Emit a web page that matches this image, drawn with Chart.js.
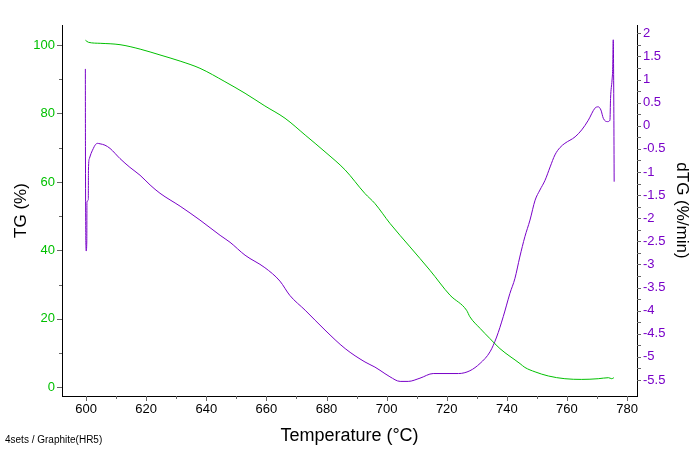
<!DOCTYPE html>
<html>
<head>
<meta charset="utf-8">
<script src="https://cdn.jsdelivr.net/npm/chart.js@4/dist/chart.umd.min.js"></script>
<style>
  html, body { margin: 0; padding: 0; background: #fff; }
  #wrap { width: 700px; height: 450px; position: relative; }
</style>
</head>
<body>
<div id="wrap"><canvas id="tgChart"></canvas></div>
<script>
// TG curve (green, left axis)
const tgTemp  = [599.8, 600.8, 604.7, 611.3, 618.0, 624.6, 631.3, 637.9, 646.2, 652.9, 659.5, 666.2,
                 672.9, 679.5, 686.2, 692.8, 696.1, 701.1, 707.8, 714.4, 721.1, 726.6, 727.7, 731.1,
                 734.4, 737.7, 744.4, 746.0, 749.4, 753.8, 759.3, 764.9, 770.4, 773.8, 774.9, 775.6];
const tgValue = [101.4, 100.8, 100.5, 100.1, 98.8, 97.1, 95.3, 93.2, 89.3, 85.9, 82.2, 78.6,
                 73.7, 68.8, 63.5, 56.6, 53.7, 47.9, 41.0, 34.2, 26.9, 22.5, 20.6, 17.2,
                 14.2, 11.3, 6.9, 5.8, 4.5, 3.3, 2.5, 2.3, 2.5, 2.8, 2.5, 2.8];

// dTG curve (purple, right axis)
const dtgTemp  = [599.77, 599.8, 600.05, 600.25, 600.3, 600.75, 600.8, 601.1, 601.66, 602.43, 603.0, 603.76,
                  604.66, 606.3, 607.98, 611.3, 614.6, 617.96, 621.3, 624.6, 631.3, 637.9, 644.6, 647.9,
                  652.9, 659.5, 664.5, 667.8, 672.9, 679.5, 686.2, 692.8, 696.1, 697.8, 701.1, 704.5,
                  707.2, 711.1, 715.5, 723.9, 727.7, 731.1, 734.4, 736.6, 738.8, 741.0, 742.7, 744.3,
                  746.0, 747.7, 749.4, 751.0, 752.7, 754.4, 756.0, 757.7, 759.3, 762.7, 764.9, 767.1,
                  769.3, 770.4, 771.3, 772.1, 773.5, 774.3, 774.5, 775.0, 775.2, 775.4, 775.6, 775.7];
const dtgValue = [1.23, -0.45, -2.71, -2.49, -1.65, -1.6, -0.96, -0.71, -0.6, -0.49, -0.42, -0.38,
                  -0.39, -0.42, -0.49, -0.71, -0.9, -1.07, -1.28, -1.46, -1.74, -2.04, -2.37, -2.52,
                  -2.8, -3.07, -3.36, -3.67, -3.99, -4.42, -4.82, -5.11, -5.22, -5.29, -5.43, -5.53,
                  -5.53, -5.46, -5.36, -5.36, -5.3, -5.14, -4.89, -4.57, -4.13, -3.63, -3.3, -2.84,
                  -2.4, -2.04, -1.61, -1.39, -1.18, -0.89, -0.63, -0.47, -0.38, -0.24, -0.09, 0.12,
                  0.38, 0.41, 0.34, 0.16, 0.09, 0.12, 0.59, 0.99, 1.22, 1.86, 0.27, -1.21];

// Tick labels
const xTicks   = [600, 620, 640, 660, 680, 700, 720, 740, 760, 780];
const tgTicks  = [0, 20, 40, 60, 80, 100];
const dtgTicks = [2, 1.5, 1, 0.5, 0, -0.5, -1, -1.5, -2, -2.5, -3, -3.5, -4, -4.5, -5, -5.5];

const green = '#00c000';
const purple = '#7800c8';

Chart.defaults.font.family = '"Liberation Sans", Arial, sans-serif';

// minor ticks sit halfway between the labelled ones
function withMinor(ticks) {
  const out = [];
  ticks.forEach((v, i) => {
    out.push({ v: v, major: true });
    if (i < ticks.length - 1) out.push({ v: (v + ticks[i + 1]) / 2, major: false });
  });
  return out;
}

const tickMarks = {
  id: 'tickMarks',
  afterDraw(chart) {
    const ctx = chart.ctx;
    const { x, y, y1 } = chart.scales;
    ctx.save();
    ctx.strokeStyle = '#666';
    ctx.lineWidth = 1;
    ctx.beginPath();
    withMinor(xTicks).forEach(t => {
      const px = Math.round(x.getPixelForValue(t.v)) + 0.5;
      ctx.moveTo(px, x.top);
      ctx.lineTo(px, x.top + (t.major ? 5 : 3));
    });
    withMinor(tgTicks).forEach(t => {
      const py = Math.round(y.getPixelForValue(t.v)) + 0.5;
      ctx.moveTo(y.right, py);
      ctx.lineTo(y.right - (t.major ? 5 : 3), py);
    });
    withMinor(dtgTicks).forEach(t => {
      const py = Math.round(y1.getPixelForValue(t.v)) + 0.5;
      ctx.moveTo(y1.left, py);
      ctx.lineTo(y1.left + 4, py);
    });
    ctx.stroke();

    ctx.fillStyle = '#000';
    ctx.font = '10px "Liberation Sans", Arial, sans-serif';
    ctx.textBaseline = 'alphabetic';
    ctx.fillText('4sets / Graphite(HR5)', 5, 443);
    ctx.restore();
  }
};

new Chart(document.getElementById('tgChart'), {
  type: 'line',
  data: {
    datasets: [
      {
        label: 'TG',
        data: tgTemp.map((t, i) => ({ x: t, y: tgValue[i] })),
        borderColor: green,
        borderWidth: 1,
        pointRadius: 0,
        cubicInterpolationMode: 'monotone',
        yAxisID: 'y'
      },
      {
        label: 'dTG',
        data: dtgTemp.map((t, i) => ({ x: t, y: dtgValue[i] })),
        borderColor: purple,
        borderWidth: 1,
        pointRadius: 0,
        cubicInterpolationMode: 'monotone',
        yAxisID: 'y1'
      }
    ]
  },
  options: {
    responsive: true,
    maintainAspectRatio: false,
    animation: false,
    layout: { padding: { top: 25, left: 0, right: 0, bottom: 0 } },
    plugins: {
      legend: { display: false },
      tooltip: { enabled: false }
    },
    scales: {
      x: {
        type: 'linear',
        min: 592,
        max: 783.3,
        afterFit: s => { s.height = 54; },
        afterBuildTicks: s => { s.ticks = xTicks.map(v => ({ value: v })); },
        grid: { display: false, drawTicks: false },
        border: { display: true, color: '#000', width: 1 },
        ticks: { color: '#000', font: { size: 13 }, padding: 6, autoSkip: false, maxRotation: 0, callback: v => String(v) },
        title: { display: true, text: 'Temperature (°C)', color: '#000', font: { size: 18 }, padding: { top: 0, bottom: 3 } }
      },
      y: {
        position: 'left',
        min: -2.55,
        max: 105.85,
        afterFit: s => { s.width = 62; },
        afterBuildTicks: s => { s.ticks = tgTicks.map(v => ({ value: v })); },
        grid: { display: false, drawTicks: false },
        border: { display: true, color: '#000', width: 1 },
        ticks: { color: green, font: { size: 13 }, padding: 7, callback: v => String(v) },
        title: { display: true, text: 'TG (%)', color: '#000', font: { size: 17 }, padding: { top: 11, bottom: 0 } }
      },
      y1: {
        position: 'right',
        min: -5.846,
        max: 2.18,
        afterFit: s => { s.width = 63; },
        afterBuildTicks: s => { s.ticks = dtgTicks.map(v => ({ value: v })); },
        grid: { display: false, drawTicks: false },
        border: { display: true, color: '#000', width: 1 },
        ticks: { color: purple, font: { size: 13 }, padding: 6, callback: v => String(v) },
        title: { display: true, text: 'dTG (%/min)', color: '#000', font: { size: 17 }, padding: { top: 8, bottom: 0 } }
      }
    }
  },
  plugins: [tickMarks]
});
</script>
</body>
</html>
